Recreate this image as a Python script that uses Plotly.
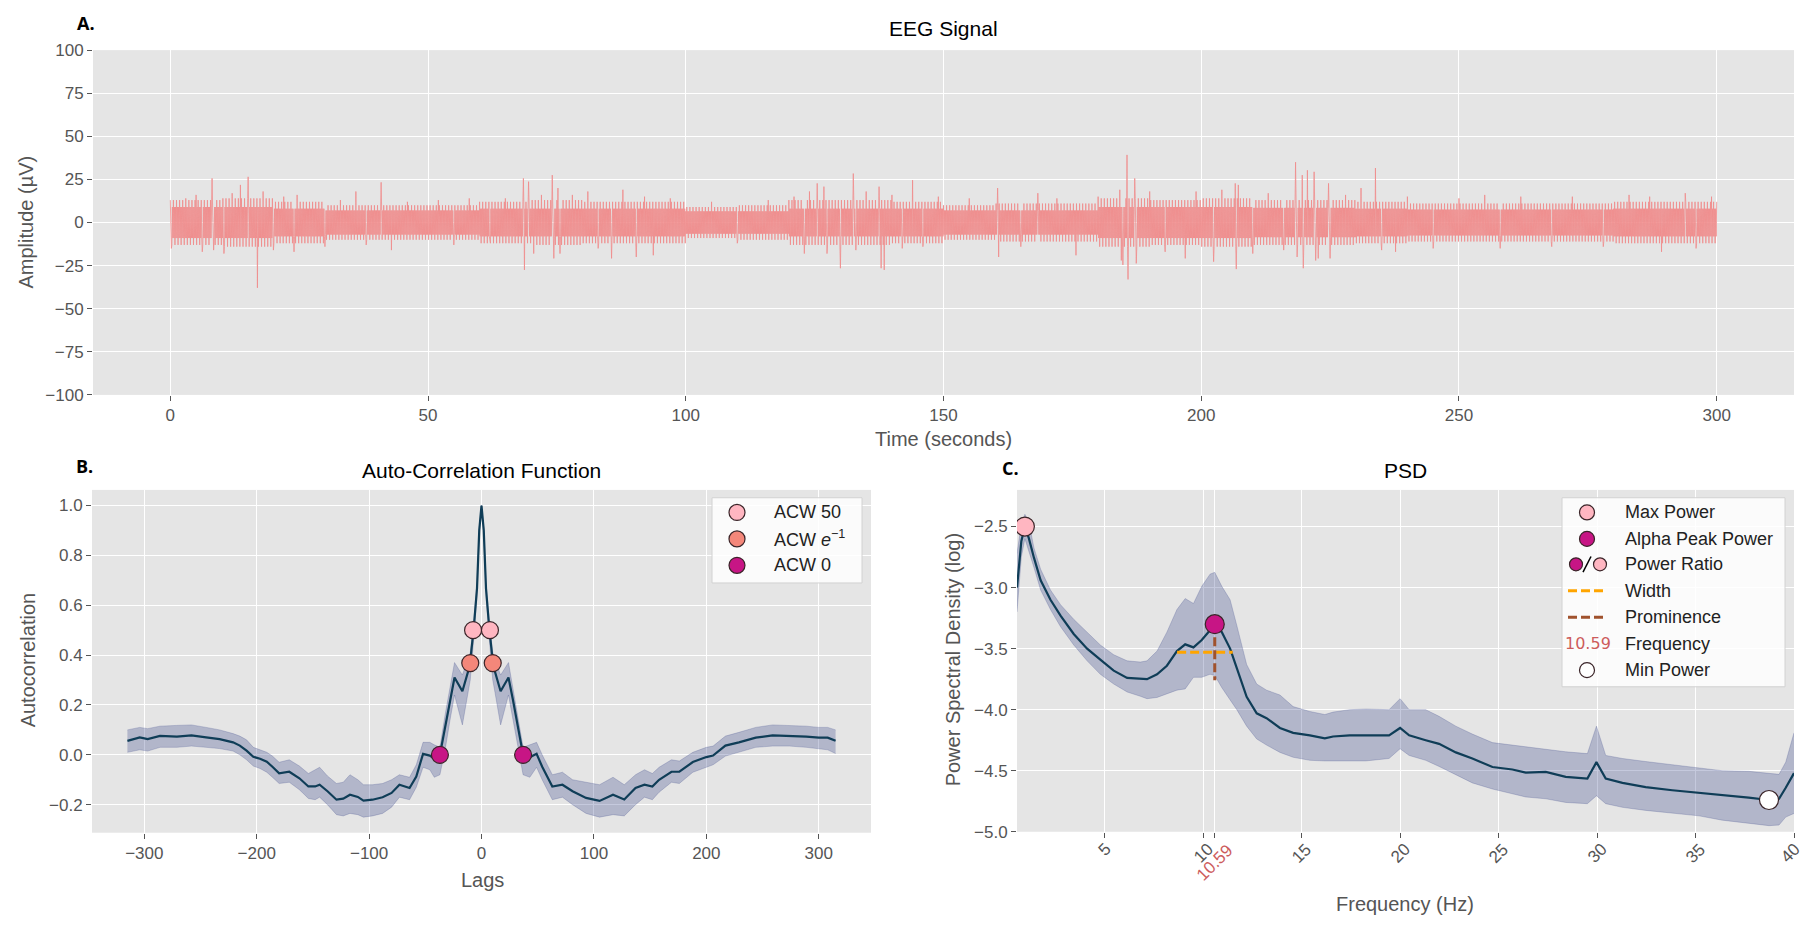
import numpy as np
import plotly.graph_objects as go

W, H = 1805, 925


def px(x):
    return x / W


def py(y):
    return 1 - y / H


# ---------------- Panel A: EEG signal (read envelopes per 10-s bin + read spikes) ----------------
bin_start = [0, 10, 20, 30, 40, 50, 60, 70, 80, 90,
             100, 110, 120, 130, 140, 150, 160, 170, 180, 190,
             200, 210, 220, 230, 240, 250, 260, 270, 280, 290]
bin_core = [9, 9, 8, 7, 7, 7, 8, 8, 8, 8,
            6.5, 6.5, 8, 8, 8, 7, 7, 7, 9, 9,
            9, 8.5, 8.5, 8, 7.5, 7.5, 7.5, 7.5, 8, 8]
bin_outer = [13, 14, 12, 10, 10, 10, 12, 13, 12, 12,
             9, 10, 13, 13, 12, 10, 11, 11, 14, 13,
             14, 13, 13, 12, 11, 11, 11, 11, 12, 12]

spike_time = [0.2, 3.0, 5.0, 6.2, 8.1, 8.4, 10.4, 12.0, 13.6, 15.1,
              16.9, 18.0, 20.0, 22.0, 24.0, 24.6, 30.0, 33.0, 36.0, 38.0,
              40.9, 42.9, 46.0, 52.0, 55.0, 58.0, 62.0, 65.0, 68.5, 68.7,
              69.5, 70.5, 72.0, 74.1, 74.4, 75.2, 75.6, 78.0, 81.0, 83.0,
              85.6, 87.8, 90.4, 92.0, 93.7, 97.0, 105.0, 110.0, 116.0, 121.0,
              123.0, 124.0, 125.5, 126.8, 127.4, 130.0, 132.5, 133.0, 135.0, 137.5,
              137.9, 138.5, 140.0, 142.0, 144.0, 146.0, 149.0, 155.0, 160.5, 160.7,
              165.0, 168.3, 172.0, 175.7, 180.0, 184.2, 184.5, 184.8, 185.6, 185.8,
              187.1, 187.4, 190.0, 193.0, 196.9, 199.0, 202.4, 204.0, 206.6, 206.8,
              207.2, 210.0, 213.0, 216.0, 218.3, 218.6, 219.6, 219.8, 220.6, 221.9,
              222.2, 222.7, 224.7, 225.0, 228.0, 231.0, 233.8, 235.0, 237.7, 240.0,
              245.0, 250.0, 255.0, 258.0, 262.0, 268.0, 272.0, 278.0, 283.0, 287.0,
              289.3, 293.9, 296.0, 299.0]
spike_amp = [-15, 14, 16, -17, 25.6, -16, -18, 17, 21.8, 26.5,
             -37.9, 18, -16, 15, -17, 16, -14, 13, 18, -13,
             23.3, -16, 12, 13, -13, 14, -12, 14, 25.6, -27.5,
             23.7, -18, 16, 27.5, -20.8, 20, -18, 16, 18, -15,
             -20.8, 19, -20, 15, -19, 14, 12, -12, 13, 15,
             -18, 18, 22.7, 20.8, -18, -26.5, 28.4, -16, 18, 20.8,
             -26.5, -27.5, 16, -15, 24.6, -14, 15, 14, 20, -20,
             -14, 17, 14, -19, 15, 19, -22, -24.6, 39.2, -33,
             25.6, -23.7, 18, -17, -20.8, 18, -22.7, 19, 22.7, -27,
             21.8, -18, 17, -16, 35, -20, 27.5, -26.5, 30.3, 29.4,
             -22, -20.8, 22.7, -20.8, 16, 20, 31.6, -16, -17, 15,
             -15, 14, 16, -15, 15, -14, 15, -14, 16, 15,
             -17, 17, -15, 15]

step = 0.1
eeg_t = np.round(np.arange(0, 300 + step / 2, step), 2)
eeg_v = np.zeros_like(eeg_t)
for i, t in enumerate(eeg_t):
    b = min(int(t // 10), len(bin_start) - 1)
    amp = bin_outer[b] if i % 6 in (0, 3) else bin_core[b]
    eeg_v[i] = amp if i % 2 == 0 else -amp
for t, a in zip(spike_time, spike_amp):
    k = int(round(t / step))
    if 0 <= k < len(eeg_v):
        eeg_v[k] = a

# ---------------- Panel B: ACF ----------------
acf_lag = [-315, -304, -297, -286, -271, -258, -245, -233, -221, -215,
           -209, -203, -197, -191, -186, -180, -171, -162, -154, -148,
           -144, -137, -129, -123, -117, -110, -105, -97, -88, -80,
           -73, -64, -58, -52, -46, -42, -37, -32, -28, -24,
           -17, -12, -10, -7, -4, -2, 0,
           2, 4, 7, 10, 12, 17, 24, 28, 32, 37,
           43, 49, 54, 63, 72, 81, 93, 105, 117, 127,
           137, 145, 152, 158, 169, 176, 188, 200, 206, 217,
           229, 244, 259, 274, 289, 300, 308, 315]
acf_mean = [0.056, 0.070, 0.063, 0.076, 0.073, 0.078, 0.070, 0.063, 0.050, 0.037,
            0.017, -0.008, -0.016, -0.028, -0.048, -0.074, -0.068, -0.094, -0.127, -0.127,
            -0.120, -0.146, -0.180, -0.176, -0.160, -0.169, -0.184, -0.180, -0.170, -0.153,
            -0.120, -0.133, -0.087, 0.004, -0.003, -0.015, 0.0, 0.12, 0.22, 0.31,
            0.255, 0.333, 0.377, 0.503, 0.667, 0.90, 1.0,
            0.90, 0.667, 0.503, 0.377, 0.333, 0.255, 0.31, 0.22, 0.12, 0.0,
            -0.01, 0.004, -0.048, -0.127, -0.12, -0.146, -0.173, -0.185, -0.16, -0.179,
            -0.133, -0.12, -0.127, -0.1, -0.068, -0.068, -0.029, -0.009, -0.003, 0.037,
            0.05, 0.069, 0.078, 0.076, 0.073, 0.069, 0.069, 0.056]
acf_lo = [0.01, 0.02, 0.015, 0.03, 0.03, 0.035, 0.03, 0.025, 0.015, 0.0,
          -0.02, -0.045, -0.055, -0.07, -0.09, -0.115, -0.11, -0.14, -0.175, -0.18,
          -0.17, -0.2, -0.24, -0.245, -0.235, -0.24, -0.25, -0.245, -0.235, -0.21,
          -0.17, -0.18, -0.13, -0.05, -0.06, -0.09, -0.08, 0.03, 0.14, 0.24,
          0.12, 0.25, 0.30, 0.46, 0.64, 0.89, 1.0,
          0.89, 0.64, 0.46, 0.30, 0.25, 0.12, 0.24, 0.14, 0.03, -0.08,
          -0.09, -0.05, -0.1, -0.18, -0.17, -0.2, -0.235, -0.25, -0.24, -0.245,
          -0.2, -0.17, -0.18, -0.15, -0.11, -0.115, -0.07, -0.05, -0.04, -0.005,
          0.01, 0.03, 0.035, 0.035, 0.03, 0.025, 0.02, 0.005]
acf_hi = [0.10, 0.11, 0.105, 0.115, 0.118, 0.12, 0.11, 0.10, 0.085, 0.075,
          0.06, 0.03, 0.02, 0.01, -0.005, -0.03, -0.02, -0.045, -0.075, -0.06,
          -0.05, -0.085, -0.115, -0.11, -0.08, -0.1, -0.12, -0.12, -0.115, -0.1,
          -0.08, -0.09, -0.04, 0.05, 0.05, 0.04, 0.03, 0.17, 0.27, 0.37,
          0.32, 0.38, 0.41, 0.53, 0.69, 0.91, 1.0,
          0.91, 0.69, 0.53, 0.41, 0.38, 0.32, 0.37, 0.27, 0.17, 0.03,
          0.04, 0.05, 0.0, -0.08, -0.07, -0.1, -0.11, -0.12, -0.09, -0.12,
          -0.08, -0.06, -0.075, -0.05, -0.02, -0.025, 0.01, 0.03, 0.035, 0.075,
          0.09, 0.11, 0.12, 0.118, 0.115, 0.11, 0.11, 0.1]

acw50_lag = [-7.5, 7.5]
acw50_val = [0.5, 0.5]
acwe_lag = [-10, 10]
acwe_val = [0.368, 0.368]
acw0_lag = [-37, 37]
acw0_val = [0.0, 0.0]

# ---------------- Panel C: PSD ----------------
psd_freq = [0.55, 0.77, 0.95, 1.15, 1.41, 1.75, 2.25, 2.76, 3.43, 4.11,
            4.78, 5.46, 6.14, 6.81, 7.15, 7.66, 8.16, 8.67, 9.09, 9.51,
            9.93, 10.35, 10.59, 10.95, 11.37, 11.71, 12.21, 12.72, 13.22, 13.9,
            14.57, 15.42, 16.18, 16.6, 17.44, 18.26, 19.44, 20.0, 20.46, 21.3,
            21.98, 22.83, 23.67, 24.69, 25.7, 26.38, 27.4, 28.41, 29.51, 29.97,
            30.44, 31.29, 32.47, 33.82, 35.18, 36.35, 37.7, 38.73, 39.24, 39.58,
            40.0]
psd_mean = [-3.00, -2.62, -2.50, -2.595, -2.755, -2.94, -3.10, -3.23, -3.38, -3.50,
            -3.59, -3.68, -3.74, -3.745, -3.75, -3.71, -3.64, -3.52, -3.465, -3.49,
            -3.43, -3.35, -3.30, -3.365, -3.50, -3.66, -3.895, -4.03, -4.07, -4.15,
            -4.19, -4.21, -4.235, -4.22, -4.21, -4.21, -4.21, -4.15, -4.21, -4.25,
            -4.28, -4.35, -4.40, -4.47, -4.49, -4.515, -4.51, -4.55, -4.565, -4.43,
            -4.565, -4.60, -4.635, -4.66, -4.68, -4.70, -4.72, -4.74, -4.73, -4.64,
            -4.52]
psd_hi = [-2.72, -2.48, -2.40, -2.46, -2.675, -2.85, -3.02, -3.14, -3.26, -3.37,
          -3.47, -3.55, -3.60, -3.61, -3.60, -3.52, -3.365, -3.18, -3.09, -3.13,
          -2.99, -2.89, -2.875, -2.99, -3.10, -3.31, -3.63, -3.79, -3.84, -3.88,
          -3.975, -4.015, -4.04, -4.02, -4.00, -3.995, -4.00, -3.91, -4.00, -4.00,
          -4.055, -4.135, -4.20, -4.27, -4.29, -4.305, -4.32, -4.345, -4.36, -4.135,
          -4.375, -4.40, -4.425, -4.45, -4.475, -4.50, -4.505, -4.52, -4.53, -4.43,
          -4.19]
psd_lo = [-3.20, -2.75, -2.60, -2.70, -2.835, -3.02, -3.18, -3.32, -3.47, -3.60,
          -3.71, -3.79, -3.855, -3.89, -3.91, -3.90, -3.87, -3.84, -3.83, -3.735,
          -3.735, -3.71, -3.72, -3.82, -3.92, -4.00, -4.135, -4.24, -4.29, -4.35,
          -4.39, -4.415, -4.42, -4.42, -4.415, -4.42, -4.40, -4.32, -4.375, -4.415,
          -4.465, -4.53, -4.60, -4.65, -4.69, -4.715, -4.73, -4.76, -4.77, -4.705,
          -4.77, -4.80, -4.825, -4.85, -4.87, -4.905, -4.93, -4.95, -4.945, -4.88,
          -4.85]

max_power_f, max_power_v = [0.95], [-2.50]
alpha_f, alpha_v = [10.59], [-3.30]
min_power_f, min_power_v = [38.73], [-4.74]
width_f = [8.68, 11.5]
width_v = [-3.53, -3.53]
prom_f = [10.59, 10.59]
prom_v = [-3.30, -3.76]

psd_ticks = [5, 10, 15, 20, 25, 30, 35, 40]
alpha_freq_label = "10.59"

# ---------------- colors ----------------
BG = "#E5E5E5"
LINE = "#0F3D57"
BAND = "rgba(40,55,130,0.27)"
BAND_EDGE = "rgba(60,70,140,0.30)"
PINK = "#FFB6C1"
SALMON = "#F4877A"
MVR = "#C71585"
EDGE = "#3A2428"
ORANGE = "#FFA500"
SIENNA = "#A0522D"
RED_TXT = "#CD5C5C"
FONT = "Liberation Sans, Arial, sans-serif"

fig = go.Figure()

# Panel A
fig.add_trace(go.Scatter(x=eeg_t, y=eeg_v, mode="lines",
                         line=dict(color="#F08C8C", width=0.8),
                         xaxis="x", yaxis="y", showlegend=False, hoverinfo="skip"))

# Panel B
fig.add_trace(go.Scatter(x=acf_lag, y=acf_lo, mode="lines", line=dict(color=BAND_EDGE, width=0.8),
                         xaxis="x2", yaxis="y2", showlegend=False, hoverinfo="skip"))
fig.add_trace(go.Scatter(x=acf_lag, y=acf_hi, mode="lines", line=dict(color=BAND_EDGE, width=0.8),
                         fill="tonexty", fillcolor=BAND,
                         xaxis="x2", yaxis="y2", showlegend=False, hoverinfo="skip"))
fig.add_trace(go.Scatter(x=acf_lag, y=acf_mean, mode="lines", line=dict(color=LINE, width=2.2),
                         xaxis="x2", yaxis="y2", showlegend=False, hoverinfo="skip"))
for xs, ys, col in [(acw0_lag, acw0_val, MVR), (acwe_lag, acwe_val, SALMON), (acw50_lag, acw50_val, PINK)]:
    fig.add_trace(go.Scatter(x=xs, y=ys, mode="markers",
                             marker=dict(size=17, color=col, line=dict(color=EDGE, width=1.2)),
                             xaxis="x2", yaxis="y2", showlegend=False, hoverinfo="skip"))

# Panel C
fig.add_trace(go.Scatter(x=psd_freq, y=psd_lo, mode="lines", line=dict(color=BAND_EDGE, width=0.8),
                         xaxis="x3", yaxis="y3", showlegend=False, hoverinfo="skip"))
fig.add_trace(go.Scatter(x=psd_freq, y=psd_hi, mode="lines", line=dict(color=BAND_EDGE, width=0.8),
                         fill="tonexty", fillcolor=BAND,
                         xaxis="x3", yaxis="y3", showlegend=False, hoverinfo="skip"))
fig.add_trace(go.Scatter(x=psd_freq, y=psd_mean, mode="lines", line=dict(color=LINE, width=2.2),
                         xaxis="x3", yaxis="y3", showlegend=False, hoverinfo="skip"))
fig.add_trace(go.Scatter(x=width_f, y=width_v, mode="lines",
                         line=dict(color=ORANGE, width=3, dash="9px,4px"),
                         xaxis="x3", yaxis="y3", showlegend=False, hoverinfo="skip"))
fig.add_trace(go.Scatter(x=prom_f, y=prom_v, mode="lines",
                         line=dict(color=SIENNA, width=3, dash="9px,4px"),
                         xaxis="x3", yaxis="y3", showlegend=False, hoverinfo="skip"))
for xs, ys, col in [(max_power_f, max_power_v, PINK), (alpha_f, alpha_v, MVR), (min_power_f, min_power_v, "white")]:
    fig.add_trace(go.Scatter(x=xs, y=ys, mode="markers",
                             marker=dict(size=19, color=col, line=dict(color=EDGE, width=1.2)),
                             xaxis="x3", yaxis="y3", showlegend=False, hoverinfo="skip"))

tickfont = dict(family=FONT, size=17, color="#555555")
base_ax = dict(showgrid=True, gridcolor="white", gridwidth=1.3, zeroline=False, showline=False,
               ticks="outside", ticklen=5, tickwidth=1.2, tickcolor="#555555",
               tickfont=tickfont, fixedrange=True)

layout = dict(
    width=W, height=H,
    margin=dict(l=0, r=0, t=0, b=0),
    paper_bgcolor="white", plot_bgcolor=BG,
    hovermode=False, showlegend=False,
    xaxis=dict(base_ax, domain=[px(93), px(1794)], range=[-15, 315],
               tickvals=[0, 50, 100, 150, 200, 250, 300], anchor="y"),
    yaxis=dict(base_ax, domain=[py(394), py(42)], range=[-100, 100],
               tickvals=[-100, -75, -50, -25, 0, 25, 50, 75, 100], anchor="x"),
    xaxis2=dict(base_ax, domain=[px(92), px(871)], range=[-346.5, 346.5],
                tickvals=[-300, -200, -100, 0, 100, 200, 300], anchor="y2"),
    yaxis2=dict(base_ax, domain=[py(841), py(491)], range=[-0.3125, 1.0625],
                tickvals=[-0.2, 0.0, 0.2, 0.4, 0.6, 0.8, 1.0], tickformat=".1f", anchor="x2"),
    xaxis3=dict(base_ax, domain=[px(1017), px(1794)], range=[0.55, 40],
                tickvals=psd_ticks + [10.59], showticklabels=False, anchor="y3"),
    yaxis3=dict(base_ax, domain=[py(840), py(491)], range=[-5.0, -2.2],
                tickvals=[-5.0, -4.5, -4.0, -3.5, -3.0, -2.5], tickformat=".1f", anchor="x3"),
)

annotations = []


def ann(text, x, y, size, color="#555555", angle=0, xanchor="center", yanchor="middle",
        family=FONT, xref="paper", yref="paper", xshift=0):
    annotations.append(dict(text=text, x=x, y=y, xref=xref, yref=yref, showarrow=False,
                            textangle=angle, xanchor=xanchor, yanchor=yanchor, xshift=xshift,
                            font=dict(family=family, size=size, color=color)))


# panel letters
ann("<b>A.</b>", px(86), py(14), 18, "black", family="Open Sans, Liberation Sans")
ann("<b>B.</b>", px(84), py(467), 18, "black", family="Open Sans, Liberation Sans")
ann("<b>C.</b>", px(1010), py(469), 18, "black", family="Open Sans, Liberation Sans")
# titles
ann("EEG Signal", px(943), py(20), 21, "black")
ann("Auto-Correlation Function", px(481), py(471), 21, "black")
ann("PSD", px(1405), py(471), 21, "black")
# axis titles
ann("Time (seconds)", px(943), py(439), 20)
ann("Lags", px(482), py(889), 20)
ann("Frequency (Hz)", px(1405), py(914), 20)
ann("Amplitude (µV)", px(26), py(218), 20, angle=-90)
ann("Autocorrelation", px(28), py(665), 20, angle=-90)
ann("Power Spectral Density (log)", px(953), py(665), 20, angle=-90)

# rotated PSD tick labels
for v in psd_ticks:
    cy = 858 if v < 10 else 862
    ann(str(v), v, py(cy), 17, "#555555", angle=-45, xref="x3", xshift=(-4 if v == 40 else 0))
ann(alpha_freq_label, 10.59, py(871), 17, RED_TXT, angle=-45, xref="x3")

shapes = []


def circ(cx, cy, d, fill):
    shapes.append(dict(type="circle", xref="paper", yref="paper",
                       xsizemode="pixel", ysizemode="pixel",
                       xanchor=px(cx), yanchor=py(cy),
                       x0=-d / 2, x1=d / 2, y0=-d / 2, y1=d / 2,
                       fillcolor=fill, line=dict(color=EDGE, width=1.2), layer="above"))


def box(x0, y0, x1, y1):
    shapes.append(dict(type="rect", xref="paper", yref="paper",
                       x0=px(x0), x1=px(x1), y0=py(y1), y1=py(y0),
                       fillcolor="rgba(255,255,255,0.82)", line=dict(color="#D2D2D2", width=1),
                       layer="above"))


def hline(x0, x1, y, color):
    shapes.append(dict(type="line", xref="paper", yref="paper",
                       x0=px(x0), x1=px(x1), y0=py(y), y1=py(y),
                       line=dict(color=color, width=3, dash="9px,4px"), layer="above"))


# Legend B
box(712, 499, 862, 586)
legB_labels = ["ACW 50", "ACW <i>e</i><sup>−1</sup>", "ACW 0"]
legB_colors = [PINK, SALMON, MVR]
legB_rows = [514, 541, 568]
for lab, col, ry in zip(legB_labels, legB_colors, legB_rows):
    circ(737, ry, 16, col)
    ann(lab, px(772), py(ry), 18, "#222222", xanchor="left")

# Legend C
box(1562, 499, 1785, 692)
legC_rows = [514, 541, 567, 594, 621, 648, 675]
legC_labels = ["Max Power", "Alpha Peak Power", "Power Ratio", "Width", "Prominence", "Frequency", "Min Power"]
for lab, ry in zip(legC_labels, legC_rows):
    ann(lab, px(1623), py(ry), 18, "#222222", xanchor="left")
circ(1587, legC_rows[0], 15, PINK)
circ(1587, legC_rows[1], 15, MVR)
circ(1576, legC_rows[2], 13, MVR)
circ(1600, legC_rows[2], 13, PINK)
shapes.append(dict(type="line", xref="paper", yref="paper",
                   x0=px(1583), x1=px(1591), y0=py(legC_rows[2] + 8), y1=py(legC_rows[2] - 8),
                   line=dict(color="black", width=1.5), layer="above"))
hline(1568, 1607, legC_rows[3], ORANGE)
hline(1568, 1607, legC_rows[4], SIENNA)
ann(alpha_freq_label, px(1588), py(legC_rows[5]), 16, RED_TXT, family="DejaVu Sans")
circ(1587, legC_rows[6], 15, "white")

layout["annotations"] = annotations
layout["shapes"] = shapes
fig.update_layout(**layout)

fig.write_html("out.html")
